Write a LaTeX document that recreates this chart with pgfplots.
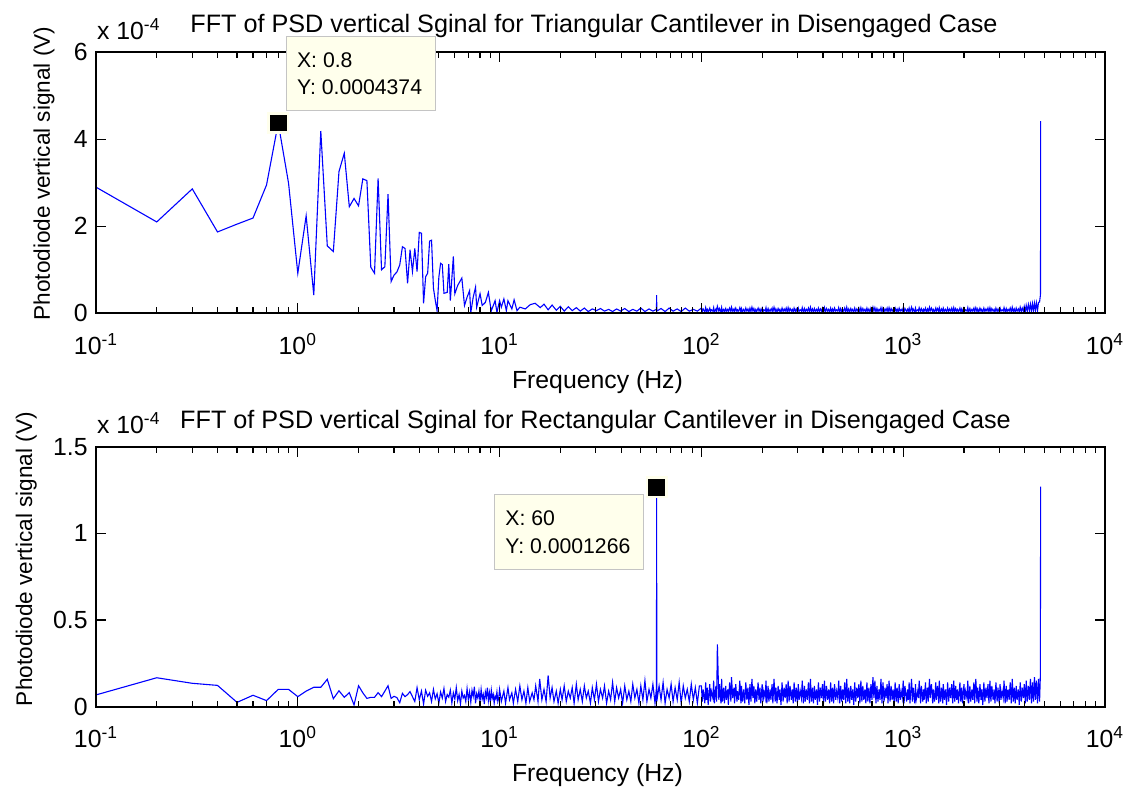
\documentclass[border=0pt]{standalone}
\usepackage{fontspec}
\setmainfont{Liberation Sans}
\usepackage{pgfplots}
\usepackage{pgfplotstable}
\pgfplotsset{compat=1.18}

\definecolor{tipfill}{RGB}{255,255,236}
\definecolor{tipedge}{RGB}{196,196,196}
\definecolor{tracecol}{RGB}{0,0,255}

% Spectrum of the triangular cantilever: frequency (Hz), amplitude (x 1e-4 V)
\pgfplotstableread[row sep=\\]{
f v\\
0.1 2.90\\ 0.2 2.10\\ 0.3 2.86\\ 0.4 1.87\\ 0.5 2.05\\ 0.6 2.19\\ 0.7 2.95\\ 0.8 4.374\\ 0.9 2.99\\ 1.0 0.92\\
1.1 2.24\\ 1.2 0.42\\ 1.3 4.19\\ 1.4 1.55\\ 1.5 1.42\\ 1.6 3.26\\ 1.7 3.68\\ 1.8 2.45\\ 1.9 2.64\\ 2.0 2.47\\
2.1 3.09\\ 2.2 3.05\\ 2.3 1.06\\ 2.4 0.92\\ 2.5 3.10\\ 2.6 1.00\\ 2.7 1.07\\ 2.8 2.74\\ 2.9 0.73\\ 3.0 0.88\\
3.1 0.95\\ 3.2 1.11\\ 3.3 1.53\\ 3.4 1.49\\ 3.5 0.69\\ 3.6 1.46\\ 3.7 0.96\\ 3.8 1.49\\ 3.9 0.96\\ 4.0 1.86\\
4.1 1.84\\ 4.2 0.23\\ 4.3 0.84\\ 4.4 0.92\\ 4.5 1.66\\ 4.6 1.68\\ 4.7 0.58\\ 4.8 0.30\\ 4.9 0.06\\ 5.0 0.83\\
5.1 1.15\\ 5.2 1.12\\ 5.3 0.46\\ 5.5 0.48\\ 5.6 1.13\\ 5.7 0.29\\ 5.9 1.31\\ 6.0 0.45\\ 6.2 0.64\\ 6.5 0.81\\
6.7 0.18\\ 6.9 0.37\\ 7.1 0.52\\ 7.2 0.02\\ 7.4 0.37\\ 7.6 0.60\\ 7.7 0.14\\ 8.0 0.45\\ 8.2 0.18\\ 8.5 0.25\\
8.8 0.48\\ 9.0 0.18\\ 9.1 0.06\\ 9.5 0.29\\ 9.7 0.02\\ 10.0 0.29\\ 10.2 0.14\\ 10.5 0.33\\ 10.8 0.06\\ 11.0 0.29\\
11.5 0.10\\ 11.8 0.31\\ 12.2 0.06\\ 12.6 0.14\\ 13.4 0.10\\ 14.2 0.20\\ 15.0 0.23\\ 15.9 0.13\\
16.6 0.21\\ 17.4 0.08\\ 18.2 0.19\\ 19.1 0.07\\ 20.0 0.16\\ 20.9 0.05\\ 21.9 0.15\\ 22.9 0.06\\ 24.0 0.13\\ 25.1 0.05\\
26.3 0.12\\ 27.5 0.04\\ 28.8 0.10\\ 30.2 0.06\\ 31.6 0.11\\ 33.1 0.05\\ 34.7 0.09\\ 36.3 0.04\\ 38.0 0.10\\ 39.8 0.05\\
41.7 0.11\\ 43.7 0.04\\ 45.7 0.09\\ 47.9 0.05\\ 50.1 0.12\\ 52.5 0.04\\ 55.0 0.10\\ 57.5 0.05\\ 59.9 0.09\\ 60.0 0.42\\
60.1 0.05\\ 63.1 0.11\\ 66.1 0.04\\ 69.2 0.12\\ 72.4 0.05\\ 75.9 0.10\\ 79.4 0.04\\ 83.2 0.12\\ 87.1 0.05\\ 91.2 0.09\\
95.5 0.05\\
100 0.12\\ 101 0.04\\ 102 0.10\\ 104 0.03\\ 105 0.13\\ 106 0.05\\ 107 0.09\\ 108 0.03\\ 110 0.12\\ 111 0.04\\
112 0.08\\ 114 0.05\\ 115 0.13\\ 116 0.03\\ 118 0.10\\ 119 0.04\\ 120 0.16\\ 122 0.05\\ 123 0.11\\ 125 0.03\\
126 0.13\\ 127 0.04\\ 129 0.09\\ 130 0.03\\ 132 0.11\\ 133 0.05\\ 135 0.09\\ 136 0.03\\ 138 0.12\\ 140 0.04\\
141 0.14\\ 143 0.05\\ 145 0.10\\ 146 0.03\\ 148 0.12\\ 150 0.04\\ 151 0.08\\ 153 0.05\\ 155 0.13\\ 157 0.03\\
158 0.11\\ 160 0.04\\ 162 0.09\\ 164 0.03\\ 166 0.12\\ 168 0.05\\ 170 0.10\\ 172 0.03\\ 174 0.12\\ 176 0.04\\
178 0.14\\ 180 0.05\\ 182 0.11\\ 184 0.03\\ 186 0.09\\ 188 0.04\\ 191 0.12\\ 193 0.05\\ 195 0.10\\ 197 0.03\\
200 0.12\\ 202 0.04\\ 204 0.08\\ 207 0.05\\ 209 0.13\\ 211 0.03\\ 214 0.11\\ 216 0.04\\ 219 0.09\\ 221 0.05\\
224 0.12\\ 226 0.03\\ 229 0.14\\ 232 0.04\\ 234 0.10\\ 237 0.03\\ 240 0.11\\ 243 0.05\\ 245 0.09\\ 248 0.03\\
251 0.12\\ 254 0.04\\ 257 0.10\\ 260 0.05\\ 263 0.12\\ 266 0.03\\ 269 0.13\\ 272 0.04\\ 275 0.11\\ 279 0.05\\
282 0.09\\ 285 0.03\\ 288 0.12\\ 292 0.04\\ 295 0.10\\ 299 0.03\\ 302 0.12\\ 305 0.05\\ 309 0.08\\ 313 0.05\\
316 0.13\\ 320 0.03\\ 324 0.11\\ 327 0.04\\ 331 0.09\\ 335 0.05\\ 339 0.12\\ 343 0.03\\ 347 0.14\\ 351 0.04\\
355 0.10\\ 359 0.03\\ 363 0.11\\ 367 0.05\\ 372 0.09\\ 376 0.03\\ 380 0.12\\ 385 0.04\\ 389 0.10\\ 394 0.05\\
398 0.12\\ 403 0.03\\ 407 0.13\\ 412 0.04\\ 417 0.11\\ 422 0.05\\ 427 0.09\\ 432 0.03\\ 437 0.12\\ 442 0.04\\
447 0.10\\ 452 0.03\\ 457 0.12\\ 463 0.05\\ 468 0.08\\ 474 0.05\\ 479 0.13\\ 485 0.03\\ 490 0.11\\ 496 0.04\\
501 0.09\\ 507 0.05\\ 513 0.12\\ 519 0.03\\ 525 0.14\\ 531 0.04\\ 537 0.10\\ 543 0.03\\ 550 0.11\\ 556 0.05\\
562 0.09\\ 569 0.03\\ 575 0.12\\ 582 0.04\\ 589 0.10\\ 596 0.05\\ 603 0.12\\ 610 0.03\\ 617 0.13\\ 624 0.04\\
631 0.11\\ 638 0.05\\ 646 0.09\\ 653 0.03\\ 661 0.12\\ 668 0.04\\ 676 0.10\\ 684 0.03\\ 692 0.12\\ 700 0.05\\
708 0.14\\ 716 0.05\\ 724 0.13\\ 733 0.03\\ 741 0.11\\ 750 0.04\\ 759 0.09\\ 767 0.05\\ 776 0.13\\ 785 0.03\\
794 0.12\\ 804 0.04\\ 813 0.10\\ 822 0.05\\ 832 0.12\\ 841 0.03\\ 851 0.13\\ 861 0.04\\ 871 0.11\\ 881 0.05\\
891 0.09\\ 902 0.03\\ 912 0.12\\ 923 0.04\\ 933 0.10\\ 944 0.03\\ 955 0.12\\ 966 0.05\\ 977 0.09\\ 989 0.05\\
1000 0.13\\ 1010 0.03\\ 1020 0.11\\ 1040 0.04\\ 1050 0.09\\ 1060 0.05\\ 1070 0.12\\ 1080 0.03\\ 1100 0.14\\ 1110 0.04\\
1120 0.10\\ 1140 0.03\\ 1150 0.12\\ 1160 0.05\\ 1180 0.08\\ 1190 0.05\\ 1200 0.13\\ 1220 0.03\\ 1230 0.11\\ 1250 0.04\\
1260 0.09\\ 1270 0.05\\ 1290 0.12\\ 1300 0.03\\ 1320 0.10\\ 1330 0.04\\ 1350 0.14\\ 1360 0.05\\ 1380 0.12\\ 1400 0.03\\
1410 0.09\\ 1430 0.04\\ 1450 0.12\\ 1460 0.05\\ 1480 0.11\\ 1500 0.03\\ 1510 0.13\\ 1530 0.04\\ 1550 0.10\\ 1570 0.03\\
1580 0.12\\ 1600 0.05\\ 1620 0.09\\ 1640 0.03\\ 1660 0.12\\ 1680 0.04\\ 1700 0.10\\ 1720 0.05\\ 1740 0.12\\ 1760 0.03\\
1780 0.13\\ 1800 0.04\\ 1820 0.11\\ 1840 0.05\\ 1860 0.09\\ 1880 0.03\\ 1910 0.12\\ 1930 0.04\\ 1950 0.10\\ 1970 0.03\\
2000 0.12\\ 2020 0.05\\ 2040 0.08\\ 2070 0.05\\ 2090 0.13\\ 2110 0.03\\ 2140 0.11\\ 2160 0.04\\ 2190 0.09\\ 2210 0.05\\
2240 0.12\\ 2260 0.03\\ 2290 0.13\\ 2320 0.04\\ 2340 0.10\\ 2370 0.03\\ 2400 0.12\\ 2430 0.05\\ 2450 0.09\\ 2480 0.03\\
2510 0.12\\ 2540 0.04\\ 2570 0.10\\ 2600 0.05\\ 2630 0.12\\ 2660 0.03\\ 2690 0.13\\ 2720 0.04\\ 2750 0.11\\ 2790 0.05\\
2820 0.09\\ 2850 0.03\\ 2880 0.12\\ 2920 0.04\\ 2950 0.10\\ 2990 0.03\\ 3020 0.12\\ 3050 0.05\\ 3090 0.08\\ 3130 0.05\\
3160 0.13\\ 3200 0.03\\ 3240 0.11\\ 3270 0.04\\ 3310 0.09\\ 3350 0.05\\ 3390 0.12\\ 3430 0.03\\ 3470 0.14\\ 3510 0.04\\
3550 0.10\\ 3590 0.03\\ 3630 0.12\\ 3670 0.05\\ 3720 0.10\\ 3760 0.03\\ 3800 0.14\\ 3850 0.04\\ 3890 0.12\\ 3940 0.05\\
3980 0.16\\ 4030 0.04\\ 4070 0.18\\ 4120 0.05\\ 4170 0.20\\ 4220 0.06\\ 4270 0.21\\ 4320 0.05\\ 4370 0.22\\ 4420 0.06\\
4470 0.23\\ 4520 0.07\\ 4570 0.24\\ 4630 0.06\\ 4680 0.25\\ 4740 0.26\\ 4780 0.40\\ 4790 0.45\\ 4800 4.42\\
}\triangtab

% Spectrum of the rectangular cantilever: frequency (Hz), amplitude (x 1e-4 V)
\pgfplotstableread[row sep=\\]{
f v\\
0.1 0.068\\ 0.2 0.167\\ 0.3 0.135\\ 0.4 0.123\\ 0.5 0.025\\ 0.6 0.066\\ 0.7 0.035\\ 0.8 0.100\\ 0.9 0.100\\ 1.0 0.058\\
1.1 0.090\\ 1.2 0.112\\ 1.3 0.112\\ 1.4 0.158\\ 1.5 0.046\\ 1.6 0.092\\ 1.7 0.054\\ 1.8 0.081\\ 1.9 0.010\\ 2.0 0.121\\
2.1 0.080\\ 2.2 0.048\\ 2.3 0.054\\ 2.4 0.054\\ 2.5 0.081\\ 2.6 0.058\\ 2.7 0.090\\ 2.8 0.121\\ 2.9 0.048\\ 3.0 0.060\\
3.1 0.052\\ 3.2 0.023\\ 3.3 0.077\\ 3.4 0.058\\ 3.5 0.070\\ 3.6 0.087\\ 3.7 0.058\\ 3.8 0.030\\ 3.9 0.110\\ 4.0 0.040\\
4.1 0.090\\ 4.2 0.015\\ 4.3 0.095\\ 4.4 0.060\\ 4.5 0.080\\ 4.6 0.030\\ 4.7 0.100\\ 4.8 0.045\\ 4.9 0.075\\ 5.0 0.020\\
5.1 0.085\\ 5.2 0.050\\ 5.3 0.105\\ 5.4 0.030\\ 5.5 0.070\\ 5.6 0.055\\ 5.7 0.095\\ 5.8 0.020\\ 5.9 0.080\\ 6.0 0.045\\
6.1 0.110\\ 6.2 0.035\\ 6.3 0.070\\ 6.4 0.015\\ 6.5 0.090\\ 6.6 0.050\\ 6.7 0.065\\ 6.8 0.030\\ 6.9 0.105\\ 7.0 0.040\\
7.1 0.085\\ 7.2 0.025\\ 7.3 0.095\\ 7.4 0.060\\ 7.5 0.115\\ 7.6 0.020\\ 7.7 0.075\\ 7.8 0.050\\ 7.9 0.090\\ 8.0 0.030\\
8.1 0.100\\ 8.2 0.045\\ 8.3 0.070\\ 8.4 0.015\\ 8.5 0.085\\ 8.6 0.055\\ 8.7 0.110\\ 8.8 0.035\\ 8.9 0.080\\ 9.0 0.025\\
9.1 0.095\\ 9.2 0.050\\ 9.3 0.070\\ 9.4 0.020\\ 9.5 0.060\\ 9.6 0.045\\ 9.7 0.085\\ 9.8 0.030\\ 9.9 0.050\\
10.0 0.10\\ 10.2 0.03\\ 10.5 0.09\\ 10.7 0.02\\ 11.0 0.11\\ 11.2 0.04\\ 11.5 0.08\\ 11.7 0.02\\ 12.0 0.10\\ 12.3 0.03\\
12.6 0.12\\ 12.9 0.04\\ 13.2 0.09\\ 13.5 0.02\\ 13.8 0.11\\ 14.1 0.03\\ 14.5 0.08\\ 14.8 0.04\\ 15.1 0.12\\ 15.5 0.03\\
15.8 0.16\\ 16.2 0.04\\ 16.6 0.10\\ 17.0 0.03\\ 17.4 0.18\\ 17.8 0.05\\ 18.2 0.11\\ 18.6 0.03\\ 19.1 0.09\\ 19.5 0.02\\
20.0 0.10\\ 20.4 0.04\\ 20.9 0.12\\ 21.4 0.03\\ 21.9 0.09\\ 22.4 0.05\\ 22.9 0.11\\ 23.4 0.02\\ 24.0 0.13\\ 24.5 0.04\\
25.1 0.10\\ 25.7 0.03\\ 26.3 0.12\\ 26.9 0.05\\ 27.5 0.09\\ 28.2 0.02\\ 28.8 0.11\\ 29.5 0.04\\ 30.2 0.13\\ 30.9 0.03\\
31.6 0.10\\ 32.4 0.05\\ 33.1 0.12\\ 33.9 0.02\\ 34.7 0.09\\ 35.5 0.04\\ 36.3 0.14\\ 37.2 0.03\\ 38.0 0.11\\ 38.9 0.05\\
39.8 0.10\\ 40.7 0.02\\ 41.7 0.12\\ 42.7 0.04\\ 43.7 0.09\\ 44.7 0.03\\ 45.7 0.13\\ 46.8 0.05\\ 47.9 0.10\\ 49.0 0.02\\
50.1 0.12\\ 51.3 0.04\\ 52.5 0.15\\ 53.7 0.03\\ 55.0 0.10\\ 56.2 0.05\\ 57.5 0.13\\ 58.9 0.02\\ 59.9 0.11\\ 60.0 1.266\\
60.1 0.03\\ 61.7 0.12\\ 63.1 0.04\\ 64.6 0.14\\ 66.1 0.02\\ 67.6 0.10\\ 69.2 0.05\\ 70.8 0.13\\ 72.4 0.03\\ 74.1 0.11\\
75.9 0.04\\ 77.6 0.14\\ 79.4 0.02\\ 81.3 0.12\\ 83.2 0.05\\ 85.1 0.10\\ 87.1 0.03\\ 89.1 0.13\\ 91.2 0.04\\ 93.3 0.11\\
95.5 0.02\\ 97.7 0.12\\
100 0.12\\ 101 0.03\\ 102 0.10\\ 104 0.02\\ 105 0.14\\ 106 0.04\\ 107 0.11\\ 108 0.01\\ 110 0.13\\ 111 0.03\\
112 0.09\\ 114 0.05\\ 115 0.15\\ 116 0.02\\ 118 0.12\\ 119 0.03\\ 120 0.36\\ 122 0.04\\ 123 0.13\\ 125 0.02\\
126 0.16\\ 127 0.03\\ 129 0.11\\ 130 0.02\\ 132 0.12\\ 133 0.04\\ 135 0.10\\ 136 0.01\\ 138 0.14\\ 140 0.03\\
141 0.17\\ 143 0.05\\ 145 0.11\\ 146 0.02\\ 148 0.13\\ 150 0.03\\ 151 0.09\\ 153 0.04\\ 155 0.15\\ 157 0.02\\
158 0.12\\ 160 0.03\\ 162 0.10\\ 164 0.02\\ 166 0.14\\ 168 0.04\\ 170 0.11\\ 172 0.01\\ 174 0.13\\ 176 0.03\\
178 0.16\\ 180 0.05\\ 182 0.12\\ 184 0.02\\ 186 0.10\\ 188 0.03\\ 191 0.14\\ 193 0.04\\ 195 0.11\\ 197 0.02\\
200 0.13\\ 202 0.03\\ 204 0.09\\ 207 0.05\\ 209 0.15\\ 211 0.02\\ 214 0.12\\ 216 0.03\\ 219 0.10\\ 221 0.04\\
224 0.13\\ 226 0.02\\ 229 0.16\\ 232 0.03\\ 234 0.11\\ 237 0.02\\ 240 0.12\\ 243 0.04\\ 245 0.10\\ 248 0.01\\
251 0.14\\ 254 0.03\\ 257 0.11\\ 260 0.05\\ 263 0.13\\ 266 0.02\\ 269 0.15\\ 272 0.03\\ 275 0.12\\ 279 0.04\\
282 0.10\\ 285 0.02\\ 288 0.14\\ 292 0.03\\ 295 0.11\\ 299 0.02\\ 302 0.13\\ 305 0.04\\ 309 0.09\\ 313 0.05\\
316 0.15\\ 320 0.02\\ 324 0.12\\ 327 0.03\\ 331 0.10\\ 335 0.04\\ 339 0.14\\ 343 0.02\\ 347 0.16\\ 351 0.03\\
355 0.11\\ 359 0.02\\ 363 0.12\\ 367 0.04\\ 372 0.10\\ 376 0.01\\ 380 0.14\\ 385 0.03\\ 389 0.11\\ 394 0.05\\
398 0.13\\ 403 0.02\\ 407 0.15\\ 412 0.03\\ 417 0.12\\ 422 0.04\\ 427 0.10\\ 432 0.02\\ 437 0.14\\ 442 0.03\\
447 0.11\\ 452 0.02\\ 457 0.13\\ 463 0.04\\ 468 0.09\\ 474 0.05\\ 479 0.15\\ 485 0.02\\ 490 0.12\\ 496 0.03\\
501 0.10\\ 507 0.04\\ 513 0.14\\ 519 0.02\\ 525 0.16\\ 531 0.03\\ 537 0.11\\ 543 0.02\\ 550 0.12\\ 556 0.04\\
562 0.10\\ 569 0.01\\ 575 0.14\\ 582 0.03\\ 589 0.11\\ 596 0.05\\ 603 0.13\\ 610 0.02\\ 617 0.15\\ 624 0.03\\
631 0.12\\ 638 0.04\\ 646 0.10\\ 653 0.02\\ 661 0.14\\ 668 0.03\\ 676 0.11\\ 684 0.02\\ 692 0.13\\ 700 0.04\\
708 0.17\\ 716 0.05\\ 724 0.15\\ 733 0.02\\ 741 0.12\\ 750 0.03\\ 759 0.10\\ 767 0.04\\ 776 0.16\\ 785 0.02\\
794 0.14\\ 804 0.03\\ 813 0.11\\ 822 0.05\\ 832 0.13\\ 841 0.02\\ 851 0.15\\ 861 0.03\\ 871 0.12\\ 881 0.04\\
891 0.10\\ 902 0.02\\ 912 0.14\\ 923 0.03\\ 933 0.11\\ 944 0.02\\ 955 0.13\\ 966 0.04\\ 977 0.09\\ 989 0.05\\
1000 0.15\\ 1010 0.02\\ 1020 0.12\\ 1040 0.03\\ 1050 0.10\\ 1060 0.04\\ 1070 0.14\\ 1080 0.02\\ 1100 0.16\\ 1110 0.03\\
1120 0.11\\ 1140 0.02\\ 1150 0.13\\ 1160 0.04\\ 1180 0.09\\ 1190 0.05\\ 1200 0.15\\ 1220 0.02\\ 1230 0.12\\ 1250 0.03\\
1260 0.10\\ 1270 0.04\\ 1290 0.14\\ 1300 0.02\\ 1320 0.11\\ 1330 0.03\\ 1350 0.16\\ 1360 0.05\\ 1380 0.13\\ 1400 0.02\\
1410 0.10\\ 1430 0.03\\ 1450 0.14\\ 1460 0.04\\ 1480 0.12\\ 1500 0.02\\ 1510 0.15\\ 1530 0.03\\ 1550 0.11\\ 1570 0.02\\
1580 0.13\\ 1600 0.04\\ 1620 0.10\\ 1640 0.01\\ 1660 0.14\\ 1680 0.03\\ 1700 0.11\\ 1720 0.05\\ 1740 0.13\\ 1760 0.02\\
1780 0.15\\ 1800 0.03\\ 1820 0.12\\ 1840 0.04\\ 1860 0.10\\ 1880 0.02\\ 1910 0.14\\ 1930 0.03\\ 1950 0.11\\ 1970 0.02\\
2000 0.13\\ 2020 0.04\\ 2040 0.09\\ 2070 0.05\\ 2090 0.15\\ 2110 0.02\\ 2140 0.12\\ 2160 0.03\\ 2190 0.10\\ 2210 0.04\\
2240 0.14\\ 2260 0.02\\ 2290 0.16\\ 2320 0.03\\ 2340 0.11\\ 2370 0.02\\ 2400 0.13\\ 2430 0.04\\ 2450 0.10\\ 2480 0.01\\
2510 0.14\\ 2540 0.03\\ 2570 0.11\\ 2600 0.05\\ 2630 0.13\\ 2660 0.02\\ 2690 0.15\\ 2720 0.03\\ 2750 0.12\\ 2790 0.04\\
2820 0.10\\ 2850 0.02\\ 2880 0.14\\ 2920 0.03\\ 2950 0.11\\ 2990 0.02\\ 3020 0.13\\ 3050 0.04\\ 3090 0.09\\ 3130 0.05\\
3160 0.15\\ 3200 0.02\\ 3240 0.12\\ 3270 0.03\\ 3310 0.10\\ 3350 0.04\\ 3390 0.14\\ 3430 0.02\\ 3470 0.16\\ 3510 0.03\\
3550 0.11\\ 3590 0.02\\ 3630 0.12\\ 3670 0.04\\ 3720 0.10\\ 3760 0.01\\ 3800 0.14\\ 3850 0.03\\ 3890 0.11\\ 3940 0.05\\
3980 0.13\\ 4030 0.02\\ 4070 0.15\\ 4120 0.03\\ 4170 0.12\\ 4220 0.04\\ 4270 0.16\\ 4320 0.02\\ 4370 0.14\\ 4420 0.03\\
4470 0.17\\ 4520 0.04\\ 4570 0.15\\ 4630 0.02\\ 4680 0.16\\ 4740 0.03\\ 4780 0.17\\ 4800 1.27\\
}\rectantab

\newcommand\labfont{\fontsize{12.4}{14}\selectfont}
\newcommand\ylabfont{\fontsize{11.3}{13}\selectfont}
\newcommand\tipfont{\fontsize{10.6}{12}\selectfont}

\begin{document}
\begin{tikzpicture}
\useasboundingbox (0,0) rectangle (564pt,401.5pt);

\begin{axis}[
  at={(48pt,244.85pt)}, anchor=south west,
  scale only axis, width=504.5pt, height=130.5pt,
  xmode=log, xmin=0.1, xmax=10000, ymin=0, ymax=0.0006,
  axis on top,
  axis line style={line width=0.9pt},
  xtick pos=both, ytick pos=both,
  xtick style={draw=black, line width=0.6pt},
  ytick style={draw=black, line width=0.6pt},
  tick align=inside, major tick length=5pt,
  xtick={0.1,1,10,100,1000,10000},
  xticklabels={10\textsuperscript{-1},10\textsuperscript{0},10\textsuperscript{1},10\textsuperscript{2},10\textsuperscript{3},10\textsuperscript{4}},
  extra x ticks={0.2,0.3,0.4,0.5,0.6,0.7,0.8,0.9,2,3,4,5,6,7,8,9,20,30,40,50,60,70,80,90,200,300,400,500,600,700,800,900,2000,3000,4000,5000,6000,7000,8000,9000},
  extra x tick labels={},
  extra x tick style={major tick length=3pt, xtick style={draw=black, line width=0.6pt}},
  scaled y ticks=false,
  ytick={0,0.0002,0.0004,0.0006},
  yticklabels={0,2,4,6},
  xticklabel style={anchor=base, inner sep=0pt, yshift=-20.5pt, font=\labfont},
  yticklabel style={anchor=east, inner sep=0pt, xshift=-4pt, font=\labfont},
  xlabel={Frequency (Hz)},
  ylabel={Photodiode vertical signal (V)},
  xlabel style={at={(axis description cs:0.497,0)}, anchor=base, yshift=-37.5pt, inner sep=0pt, font=\labfont},
  ylabel style={at={(axis description cs:-0.0456,0.5356)}, anchor=base, inner sep=0pt, font=\ylabfont},
]
\addplot[color=tracecol, line width=0.55pt] table[x index=0, y expr=\thisrowno{1}*0.0001] {\triangtab};
\addplot[only marks, mark=square*, mark size=4.83pt, mark options={fill=black, draw=tipfill, line width=1.35pt}] coordinates {(0.8,0.0004374)};
\end{axis}

\begin{axis}[
  at={(48pt,48.15pt)}, anchor=south west,
  scale only axis, width=504.5pt, height=130pt,
  xmode=log, xmin=0.1, xmax=10000, ymin=0, ymax=0.00015,
  axis on top,
  axis line style={line width=0.9pt},
  xtick pos=both, ytick pos=both,
  xtick style={draw=black, line width=0.6pt},
  ytick style={draw=black, line width=0.6pt},
  tick align=inside, major tick length=5pt,
  xtick={0.1,1,10,100,1000,10000},
  xticklabels={10\textsuperscript{-1},10\textsuperscript{0},10\textsuperscript{1},10\textsuperscript{2},10\textsuperscript{3},10\textsuperscript{4}},
  extra x ticks={0.2,0.3,0.4,0.5,0.6,0.7,0.8,0.9,2,3,4,5,6,7,8,9,20,30,40,50,60,70,80,90,200,300,400,500,600,700,800,900,2000,3000,4000,5000,6000,7000,8000,9000},
  extra x tick labels={},
  extra x tick style={major tick length=3pt, xtick style={draw=black, line width=0.6pt}},
  scaled y ticks=false,
  ytick={0,0.00005,0.0001,0.00015},
  yticklabels={0,0.5,1,1.5},
  xticklabel style={anchor=base, inner sep=0pt, yshift=-20.5pt, font=\labfont},
  yticklabel style={anchor=east, inner sep=0pt, xshift=-4pt, font=\labfont},
  xlabel={Frequency (Hz)},
  ylabel={Photodiode vertical signal (V)},
  xlabel style={at={(axis description cs:0.497,0)}, anchor=base, yshift=-37.5pt, inner sep=0pt, font=\labfont},
  ylabel style={at={(axis description cs:-0.0634,0.568)}, anchor=base, inner sep=0pt, font=\ylabfont},
]
\addplot[color=tracecol, line width=0.55pt] table[x index=0, y expr=\thisrowno{1}*0.0001] {\rectantab};
\addplot[only marks, mark=square*, mark size=4.83pt, mark options={fill=black, draw=tipfill, line width=1.35pt}] coordinates {(60,0.0001266)};
\end{axis}

% titles and exponent labels
\node[anchor=base, inner sep=0pt, font=\fontsize{12.6}{15}\selectfont] at (297pt,385.35pt)
  {FFT of PSD vertical Sginal for Triangular Cantilever in Disengaged Case};
\node[anchor=base west, inner sep=0pt, font=\labfont] at (48.35pt,381.85pt) {x 10\textsuperscript{-4}};
\node[anchor=base, inner sep=0pt, font=\fontsize{12.6}{15}\selectfont] at (297.75pt,187pt)
  {FFT of PSD vertical Sginal for Rectangular Cantilever in Disengaged Case};
\node[anchor=base west, inner sep=0pt, font=\labfont] at (48.35pt,184.85pt) {x 10\textsuperscript{-4}};

% data tips
\draw[fill=tipfill, draw=tipedge, line width=0.5pt] (143.35pt,346pt) rectangle (217.5pt,383.15pt);
\node[anchor=base west, inner sep=0pt, font=\tipfont] at (148.35pt,367.85pt) {X: 0.8};
\node[anchor=base west, inner sep=0pt, font=\tipfont] at (148.35pt,354.35pt) {Y: 0.0004374};

\draw[fill=tipfill, draw=tipedge, line width=0.5pt] (247.15pt,116.5pt) rectangle (321.65pt,154pt);
\node[anchor=base west, inner sep=0pt, font=\tipfont] at (252.5pt,138.5pt) {X: 60};
\node[anchor=base west, inner sep=0pt, font=\tipfont] at (252.5pt,124.85pt) {Y: 0.0001266};
\end{tikzpicture}
\end{document}
